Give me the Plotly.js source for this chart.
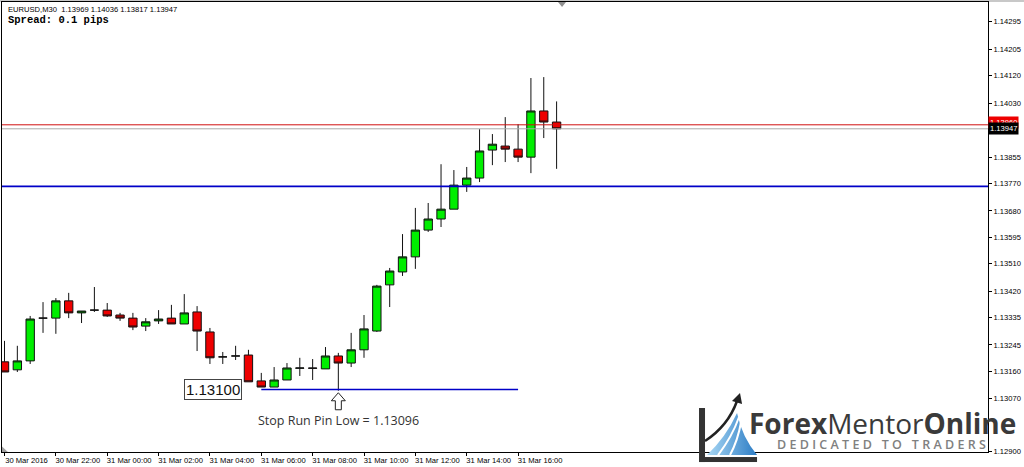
<!DOCTYPE html>
<html><head><meta charset="utf-8">
<script src="https://cdn.plot.ly/plotly-3.0.1.min.js"></script>
<style>html,body{margin:0;padding:0;background:#fff}#chart{width:1024px;height:467px}</style>
</head><body><div id="chart"></div>
<script>
// ---- data (EURUSD M30) ----
const times = ["30 Mar 20:00","30 Mar 20:30","30 Mar 21:00","30 Mar 21:30","30 Mar 22:00","30 Mar 22:30","30 Mar 23:00","30 Mar 23:30",
"31 Mar 00:00","31 Mar 00:30","31 Mar 01:00","31 Mar 01:30","31 Mar 02:00","31 Mar 02:30","31 Mar 03:00","31 Mar 03:30",
"31 Mar 04:00","31 Mar 04:30","31 Mar 05:00","31 Mar 05:30","31 Mar 06:00","31 Mar 06:30","31 Mar 07:00","31 Mar 07:30",
"31 Mar 08:00","31 Mar 08:30","31 Mar 09:00","31 Mar 09:30","31 Mar 10:00","31 Mar 10:30","31 Mar 11:00","31 Mar 11:30",
"31 Mar 12:00","31 Mar 12:30","31 Mar 13:00","31 Mar 13:30","31 Mar 14:00","31 Mar 14:30","31 Mar 15:00","31 Mar 15:30",
"31 Mar 16:00","31 Mar 16:30","31 Mar 17:00","31 Mar 17:30"];
const opens  = [1.13190,1.13164,1.13193,1.13332,1.13332,1.13388,1.13349,1.13358,1.13358,1.13342,1.13332,1.13306,1.13323,1.13332,1.13313,1.13352,
1.13287,1.13206,1.13209,1.13212,1.13128,1.13108,1.13131,1.13169,1.13170,1.13167,1.13209,1.13186,1.13229,1.13290,1.13440,1.13482,
1.13531,1.13618,1.13654,1.13686,1.13764,1.13787,1.13878,1.13891,1.13881,1.13855,1.14005,1.13969];
const highs  = [1.13258,1.13242,1.13339,1.13384,1.13397,1.13414,1.13355,1.13433,1.13381,1.13349,1.13349,1.13332,1.13358,1.13375,1.13410,1.13371,
1.13300,1.13222,1.13242,1.13229,1.13154,1.13173,1.13186,1.13203,1.13199,1.13238,1.13219,1.13284,1.13342,1.13440,1.13495,1.13605,
1.13690,1.13706,1.13832,1.13813,1.13823,1.13946,1.13930,1.13985,1.13962,1.14112,1.14115,1.14036];
const lows   = [1.13157,1.13157,1.13183,1.13284,1.13281,1.13332,1.13316,1.13352,1.13336,1.13323,1.13293,1.13290,1.13313,1.13313,1.13313,1.13225,
1.13183,1.13183,1.13196,1.13125,1.13108,1.13108,1.13131,1.13144,1.13131,1.13167,1.13096,1.13173,1.13203,1.13287,1.13368,1.13469,
1.13492,1.13612,1.13628,1.13686,1.13742,1.13774,1.13829,1.13839,1.13839,1.13803,1.13917,1.13817];
const closes = [1.13157,1.13193,1.13329,1.13332,1.13388,1.13349,1.13355,1.13358,1.13339,1.13332,1.13303,1.13320,1.13329,1.13313,1.13349,1.13290,
1.13203,1.13206,1.13209,1.13125,1.13108,1.13131,1.13170,1.13170,1.13169,1.13209,1.13186,1.13229,1.13297,1.13436,1.13485,1.13531,
1.13618,1.13654,1.13686,1.13764,1.13787,1.13875,1.13897,1.13881,1.13855,1.14005,1.13969,1.13947];

const xTickTimes  = ["30 Mar 20:00","30 Mar 22:00","31 Mar 00:00","31 Mar 02:00","31 Mar 04:00","31 Mar 06:00","31 Mar 08:00","31 Mar 10:00","31 Mar 12:00","31 Mar 14:00","31 Mar 16:00"];
const xTickLabels = ["30 Mar 2016","30 Mar 22:00","31 Mar 00:00","31 Mar 02:00","31 Mar 04:00","31 Mar 06:00","31 Mar 08:00","31 Mar 10:00","31 Mar 12:00","31 Mar 14:00","31 Mar 16:00"];
const yTickLabels = ["1.14295","1.14205","1.14120","1.14030","1.13855","1.13770","1.13680","1.13595","1.13510","1.13420","1.13335","1.13245","1.13160","1.13070","1.12900"];

const resistanceLevel = 1.13760;
const pinLabelLevel   = 1.13100;
const bidPrice = 1.13947;
const askPrice = 1.13960;
const headerText = "EURUSD,M30  1.13969 1.14036 1.13817 1.13947";
const spreadText = "Spread: 0.1 pips";
const pinText = "Stop Run Pin Low = 1.13096";

// ---- derived ----
const xs = times.map((t, i) => i);
const xTickVals = xTickTimes.map(t => times.indexOf(t));
const pinIdx = lows.indexOf(Math.min(...lows));
const pinLow = lows[pinIdx];
const lineStart = times.indexOf("31 Mar 06:00");
const lineEnd = times.indexOf("31 Mar 16:00");

const smallFont = {family: "Liberation Sans, Arial, sans-serif", size: 7.6, color: "#000"};

const trace = {
  type: "candlestick", x: xs, open: opens, high: highs, low: lows, close: closes,
  increasing: {fillcolor: "#00ee00", line: {color: "#111", width: 1}},
  decreasing: {fillcolor: "#ee0000", line: {color: "#111", width: 1}},
  whiskerwidth: 0, hoverinfo: "skip", showlegend: false
};

const logoSvg = `<svg xmlns='http://www.w3.org/2000/svg' viewBox='0 0 62 71' width='62' height='71'>
<defs><linearGradient id='g' x1='0' y1='0' x2='1' y2='0'><stop offset='0' stop-color='#a9d8f5'/><stop offset='1' stop-color='#2c7cc4'/></linearGradient></defs>
<path d='M9,63 Q28,45 39,21 Q44,45 59,63 Z' fill='url(#g)'/>
<path d='M20,63 Q34,45 41,25' stroke='#fff' stroke-width='2' fill='none'/>
<path d='M32,63 Q40,48 43,30' stroke='#fff' stroke-width='2' fill='none'/>
<path d='M7,49 Q30,34 39,9' stroke='#222' stroke-width='2.5' fill='none'/>
<path d='M42,1 L34,9 L44,12 Z' fill='#222'/>
<rect x='1' y='16' width='6' height='54' fill='#333'/>
<rect x='1' y='65' width='58' height='5' fill='#333'/>
</svg>`;

const layout = {
  width: 1024, height: 467,
  margin: {l: 2, r: 36, t: 2, b: 15},
  paper_bgcolor: "#fff", plot_bgcolor: "#fff",
  boxgap: 0.35, boxgroupgap: 0,
  showlegend: false,
  xaxis: {
    range: [-0.195, 76.6], fixedrange: true,
    rangeslider: {visible: false},
    tickmode: "array", tickvals: xTickVals, ticktext: xTickLabels,
    ticks: "outside", ticklen: 3, tickcolor: "#000", tickwidth: 1,
    ticklabelshift: 22, ticklabelstandoff: -2,
    tickfont: smallFont,
    showgrid: false, zeroline: false,
    showline: true, linecolor: "#000", linewidth: 1, mirror: true
  },
  yaxis: {
    side: "right",
    range: [1.12897, 1.14359], fixedrange: true,
    tickmode: "array", tickvals: yTickLabels.map(Number), ticktext: yTickLabels,
    ticks: "outside", ticklen: 3, tickcolor: "#000", tickwidth: 1,
    tickfont: smallFont,
    showgrid: false, zeroline: false,
    showline: true, linecolor: "#000", linewidth: 1, mirror: true
  },
  shapes: [
    {type: "line", xref: "paper", x0: 0, x1: 1, yref: "y", y0: askPrice, y1: askPrice, line: {color: "#d01010", width: 1}},
    {type: "line", xref: "paper", x0: 0, x1: 1, yref: "y", y0: bidPrice, y1: bidPrice, line: {color: "#a8a8a8", width: 1}},
    {type: "line", xref: "paper", x0: 0, x1: 1, yref: "y", y0: resistanceLevel, y1: resistanceLevel, line: {color: "#0000c8", width: 1.6}},
    {type: "line", xref: "x", x0: lineStart, x1: lineEnd, yref: "y", y0: pinLabelLevel, y1: pinLabelLevel, line: {color: "#0000c8", width: 1.6}},
    {type: "path", xref: "x", yref: "y", xsizemode: "pixel", ysizemode: "pixel", xanchor: pinIdx, yanchor: pinLow,
     path: "M0,-2 L7,-10 L3,-10 L3,-19 L-3,-19 L-3,-10 L-7,-10 Z", fillcolor: "#fff", line: {color: "#222", width: 1}},
    {type: "rect", xref: "paper", yref: "paper", x0: -0.01, x1: 1.04, y0: 1.0, y1: 1.0045, fillcolor: "#c8c8c8", line: {width: 0}, layer: "below"},
    {type: "path", xref: "paper", yref: "paper", path: "M0.5639,1 L0.5720,1 L0.5680,0.9889 Z", fillcolor: "#909090", line: {width: 0}},
    {type: "path", xref: "paper", yref: "paper", path: "M0.0,0.012 L0.006,0 L0,0 Z", fillcolor: "#a0a0a0", line: {width: 0}}
  ],
  images: [{
    source: "data:image/svg+xml;charset=utf-8," + encodeURIComponent(logoSvg),
    xref: "paper", yref: "paper", x: 0.7059, y: 0.1333, sizex: 0.0629, sizey: 0.1578,
    xanchor: "left", yanchor: "top", sizing: "stretch", layer: "above"
  }],
  annotations: [
    {xref: "paper", yref: "paper", x: 0, y: 1, xanchor: "left", yanchor: "middle", xshift: 4, yshift: -7,
     text: headerText, showarrow: false, font: {family: "Liberation Sans, Arial, sans-serif", size: 7.6, color: "#000"}},
    {xref: "paper", yref: "paper", x: 0, y: 1, xanchor: "left", yanchor: "middle", xshift: 4, yshift: -18,
     text: "<b>" + spreadText + "</b>", showarrow: false, font: {family: "Liberation Mono, DejaVu Sans Mono, monospace", size: 10.5, color: "#000"}},
    {xref: "x", yref: "y", x: lineStart, y: pinLabelLevel, xanchor: "right", yanchor: "middle", xshift: -19,
     text: pinLabelLevel.toFixed(5), showarrow: false, bgcolor: "#fff", bordercolor: "#444", borderwidth: 1, borderpad: 1,
     font: {family: "Liberation Sans, Arial, sans-serif", size: 15, color: "#111"}},
    {xref: "x", yref: "y", x: pinIdx, y: pinLow, xanchor: "center", yanchor: "middle", yshift: -30,
     text: pinText, showarrow: false, font: {family: "Open Sans, sans-serif", size: 12.5, color: "#333"}},
    {xref: "paper", yref: "y", x: 1, y: askPrice, xanchor: "left", yanchor: "middle", xshift: 0, yshift: 2,
     text: askPrice.toFixed(5), showarrow: false, bgcolor: "#ee0000", borderpad: 1,
     font: {family: "Liberation Sans, Arial, sans-serif", size: 7.6, color: "#fff"}},
    {xref: "paper", yref: "y", x: 1, y: bidPrice, xanchor: "left", yanchor: "middle", xshift: 0,
     text: bidPrice.toFixed(5), showarrow: false, bgcolor: "#000", borderpad: 1,
     font: {family: "Liberation Sans, Arial, sans-serif", size: 7.6, color: "#fff"}},
    {xref: "paper", yref: "paper", x: 0.7556, y: 0.0645, xanchor: "left", yanchor: "middle",
     text: "<b>Forex</b>Mentor<b>Online</b>", showarrow: false,
     font: {family: "Open Sans, sans-serif", size: 28, color: "#3a3a3a"}},
    {xref: "paper", yref: "paper", x: 0.784, y: 0.0156, xanchor: "left", yanchor: "middle",
     text: "<span style='letter-spacing:3.3px'>DEDICATED TO TRADERS</span>", showarrow: false,
     font: {family: "Open Sans, sans-serif", size: 12.5, color: "#808080", weight: 600}}
  ]
};

Plotly.newPlot("chart", [trace], layout, {staticPlot: true, displayModeBar: false});
</script>
</body></html>
